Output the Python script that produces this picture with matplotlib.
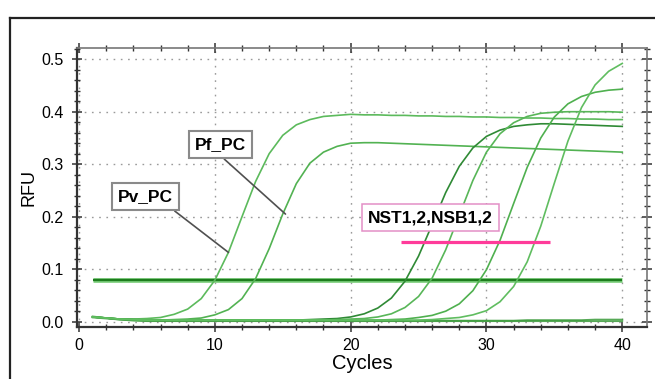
import matplotlib
matplotlib.use("Agg")
import matplotlib.pyplot as plt
from matplotlib.lines import Line2D
from matplotlib.ticker import MultipleLocator, FixedLocator

plt.rcParams['font.family'] = ['Liberation Sans', 'DejaVu Sans']

# ---------------- data ----------------
cycles = list(range(1, 41))

pv_pc = [0.009, 0.007, 0.005, 0.005, 0.006, 0.008, 0.014, 0.024, 0.044, 0.079,
         0.132, 0.200, 0.267, 0.320, 0.355, 0.375, 0.385, 0.391, 0.393, 0.395,
         0.394, 0.394, 0.393, 0.393, 0.392, 0.392, 0.391, 0.391, 0.390, 0.390,
         0.389, 0.389, 0.388, 0.388, 0.387, 0.387, 0.386, 0.386, 0.385, 0.385]

pf_pc = [0.009, 0.007, 0.005, 0.004, 0.003, 0.003, 0.004, 0.005, 0.007, 0.013,
         0.023, 0.044, 0.082, 0.139, 0.205, 0.263, 0.302, 0.323, 0.334, 0.340,
         0.341, 0.341, 0.340, 0.339, 0.338, 0.337, 0.336, 0.335, 0.334, 0.333,
         0.332, 0.331, 0.330, 0.329, 0.328, 0.327, 0.326, 0.325, 0.324, 0.323]

nst1 = [0.009, 0.007, 0.005, 0.004, 0.003, 0.003, 0.003, 0.003, 0.003, 0.003,
        0.003, 0.003, 0.003, 0.003, 0.003, 0.003, 0.004, 0.005, 0.006, 0.009,
        0.015, 0.026, 0.045, 0.077, 0.125, 0.185, 0.246, 0.296, 0.331, 0.353,
        0.365, 0.372, 0.375, 0.377, 0.377, 0.376, 0.375, 0.374, 0.373, 0.372]

nst2 = [0.009, 0.007, 0.005, 0.004, 0.003, 0.003, 0.003, 0.003, 0.003, 0.003,
        0.003, 0.003, 0.003, 0.003, 0.003, 0.003, 0.003, 0.003, 0.004, 0.005,
        0.006, 0.009, 0.015, 0.027, 0.048, 0.083, 0.137, 0.203, 0.269, 0.323,
        0.358, 0.379, 0.391, 0.397, 0.399, 0.400, 0.400, 0.400, 0.400, 0.399]

nsb1 = [0.009, 0.007, 0.005, 0.004, 0.003, 0.003, 0.003, 0.003, 0.003, 0.003,
        0.003, 0.003, 0.003, 0.003, 0.003, 0.003, 0.003, 0.003, 0.003, 0.003,
        0.003, 0.003, 0.004, 0.005, 0.008, 0.012, 0.020, 0.034, 0.059, 0.099,
        0.155, 0.225, 0.294, 0.350, 0.390, 0.415, 0.429, 0.437, 0.441, 0.443]

nsb2 = [0.009, 0.007, 0.005, 0.004, 0.003, 0.003, 0.003, 0.003, 0.003, 0.003,
        0.003, 0.003, 0.003, 0.003, 0.003, 0.003, 0.003, 0.003, 0.003, 0.003,
        0.003, 0.003, 0.003, 0.003, 0.003, 0.004, 0.006, 0.008, 0.013, 0.021,
        0.038, 0.067, 0.114, 0.182, 0.264, 0.344, 0.408, 0.451, 0.477, 0.492]

neg_a = [0.008, 0.006, 0.004, 0.003, 0.002, 0.002, 0.002, 0.002, 0.002, 0.002,
         0.002, 0.002, 0.002, 0.002, 0.002, 0.002, 0.002, 0.002, 0.002, 0.002,
         0.002, 0.002, 0.002, 0.002, 0.002, 0.002, 0.002, 0.002, 0.002, 0.002,
         0.002, 0.002, 0.003, 0.003, 0.003, 0.003, 0.003, 0.004, 0.004, 0.004]

neg_b = [0.010, 0.007, 0.004, 0.002, 0.001, 0.001, 0.001, 0.001, 0.001, 0.001,
         0.001, 0.001, 0.001, 0.001, 0.001, 0.001, 0.001, 0.001, 0.001, 0.001,
         0.001, 0.001, 0.001, 0.001, 0.001, 0.001, 0.001, 0.001, 0.001, 0.001,
         0.001, 0.001, 0.001, 0.001, 0.001, 0.001, 0.001, 0.001, 0.001, 0.001]

threshold = 0.08
threshold_span = [1, 40]
ns_marker = 0.151
ns_marker_span = [23.7, 34.7]

xticks = [0, 10, 20, 30, 40]
xticklabels = ['0', '10', '20', '30', '40']
yticks = [0.0, 0.1, 0.2, 0.3, 0.4, 0.5]
yticklabels = ['0.0', '0.1', '0.2', '0.3', '0.4', '0.5']

# ---------------- figure ----------------
W, H = 655, 379
fig = plt.figure(figsize=(W / 100, H / 100), dpi=100)
fig.patch.set_facecolor('white')

ax = fig.add_axes([77 / W, 1 - 327.3 / H, (646.7 - 77) / W, (327.3 - 48.3) / H])
ax.set_xlim(-0.15, 41.8)
ax.set_ylim(-0.0107, 0.5208)

# grid
ax.grid(which='major', color='#9a9a9a', linestyle=(0, (1.2, 4)), linewidth=1.0)
ax.set_axisbelow(True)

# negative controls
for s in (neg_a, neg_b):
    ax.plot(cycles, s, color='#3a9a3a', lw=1.3, alpha=0.85, zorder=2)

# threshold line
ax.plot(threshold_span, [threshold, threshold], color='#7fd07f', lw=3.4,
        solid_capstyle='butt', zorder=3)
ax.plot(threshold_span, [threshold, threshold], color='#1d7d1d', lw=1.7,
        solid_capstyle='butt', zorder=3)

# amplification curves
curve_colors = ['#5cba5c', '#52b252', '#2f8a35', '#58b658', '#4fb04f', '#60bd60']
for s, c in zip([pv_pc, pf_pc, nst1, nst2, nsb1, nsb2], curve_colors):
    ax.plot(cycles, s, color=c, lw=1.2, zorder=4)

# pink marker line
ax.plot(ns_marker_span, [ns_marker, ns_marker], color='#ff3b9a', lw=2.3,
        solid_capstyle='butt', zorder=5)

# annotations
gray_box = dict(boxstyle='square,pad=0.35', fc='white', ec='#8a8a8a', lw=1.5)
ax.annotate('Pf_PC', xy=(15.2, 0.205), xytext=(10.4, 0.337),
            ha='center', va='center', fontsize=12.5, fontweight='bold',
            bbox=gray_box, zorder=6,
            arrowprops=dict(arrowstyle='-', color='#505050', lw=1.2,
                            relpos=(0.43, 0.0), shrinkA=0, shrinkB=0))
ax.annotate('Pv_PC', xy=(11.0, 0.132), xytext=(4.9, 0.238),
            ha='center', va='center', fontsize=12.5, fontweight='bold',
            bbox=gray_box, zorder=6,
            arrowprops=dict(arrowstyle='-', color='#505050', lw=1.2,
                            relpos=(0.87, 0.0), shrinkA=0, shrinkB=0))
ax.text(25.9, 0.198, 'NST1,2,NSB1,2', ha='center', va='center',
        fontsize=12.5, fontweight='bold', zorder=6,
        bbox=dict(boxstyle='square,pad=0.35', fc='white', ec='#e38fc6', lw=1.1))

# ticks
ax.xaxis.set_major_locator(FixedLocator(xticks))
ax.set_xticklabels(xticklabels)
ax.xaxis.set_minor_locator(MultipleLocator(2))
ax.yaxis.set_major_locator(FixedLocator(yticks))
ax.set_yticklabels(yticklabels)
ax.yaxis.set_minor_locator(MultipleLocator(0.02))
ax.tick_params(which='both', direction='inout', top=True, right=True,
               color='#333333', labelsize=11.5)
ax.tick_params(which='major', length=7, width=1.1)
ax.tick_params(which='minor', length=4.5, width=1.0)
ax.tick_params(axis='y', pad=6)
ax.tick_params(axis='x', pad=4)

for side in ('left', 'bottom'):
    ax.spines[side].set_color('#333333')
    ax.spines[side].set_linewidth(1.6)
for side in ('top', 'right'):
    ax.spines[side].set_color('#777777')
    ax.spines[side].set_linewidth(1.2)

ax.set_xlabel('Cycles', fontsize=14.5, labelpad=1)
ax.set_ylabel('RFU', fontsize=13, labelpad=3)

# outer screenshot frame
fx = 10 / W
fy = 1 - 17.5 / H
fig.add_artist(Line2D([fx, 1.0], [fy, fy], color='#222222', lw=1.6))
fig.add_artist(Line2D([fx, fx], [0.0, fy], color='#222222', lw=1.6))

fig.savefig('out.png', dpi=100)
